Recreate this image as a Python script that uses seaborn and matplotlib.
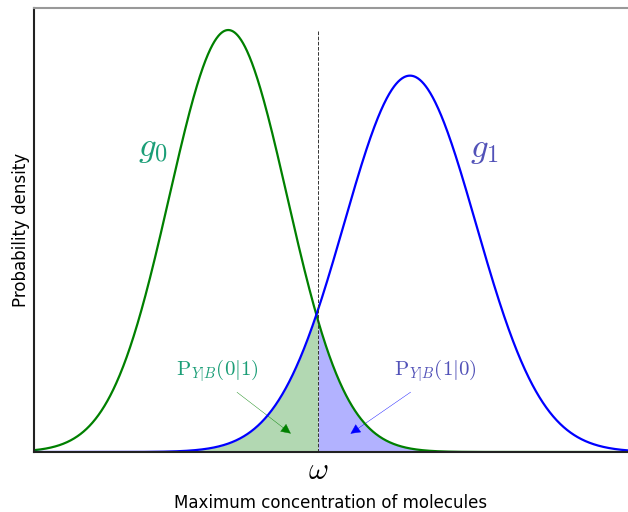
import numpy as np
import pandas as pd
import matplotlib
matplotlib.use("Agg")
import matplotlib.pyplot as plt
import seaborn as sns
from matplotlib.patches import FancyArrowPatch

sns.set_theme(style="white")
plt.rcParams["font.family"] = ["DejaVu Sans"]
plt.rcParams["mathtext.fontset"] = "cm"

# Class-conditional densities of the maximum concentration
means = [3.27, 6.33]
sigmas = [0.99, 1.11]
curve_names = ["g0", "g1"]
curve_colors = ["green", "blue"]
label_colors = ["#1b9e77", "#5252b8"]
omega = 4.78
x_limits = (0.0, 10.0)
y_top = 0.424

x = np.linspace(x_limits[0], x_limits[1], 1200)


def gauss(xs, mu, sd):
    return np.exp(-0.5 * ((xs - mu) / sd) ** 2) / (sd * np.sqrt(2 * np.pi))


frames = []
for name, mu, sd in zip(curve_names, means, sigmas):
    frames.append(pd.DataFrame({"x": x, "density": gauss(x, mu, sd), "curve": name}))
df = pd.concat(frames, ignore_index=True)

fig = plt.figure(figsize=(6.28, 5.12), dpi=100)
ax = fig.add_axes([34 / 628, 60 / 512, 1 - 34 / 628, 444 / 512])

sns.lineplot(data=df, x="x", y="density", hue="curve", palette=curve_colors,
             legend=False, ax=ax, linewidth=1.6)

g0 = gauss(x, means[0], sigmas[0])
g1 = gauss(x, means[1], sigmas[1])
ax.fill_between(x, 0, g1, where=x <= omega, color="green", alpha=0.3, linewidth=0)
ax.fill_between(x, 0, g0, where=x >= omega, color="blue", alpha=0.3, linewidth=0)

# decision threshold
ax.plot([omega, omega], [0, gauss(means[0], means[0], sigmas[0])],
        color="#333333", linestyle="--", linewidth=0.7)

ax.text(2.0, 0.2905, r"$g_0$", color=label_colors[0], fontsize=25,
        ha="center", va="center")
ax.text(7.59, 0.2896, r"$g_1$", color=label_colors[1], fontsize=25,
        ha="center", va="center")

ax.text(3.08, 0.0776, r"$\mathrm{P}_{Y|B}(0|1)$", color=label_colors[0],
        fontsize=15, ha="center", va="center")
ax.text(6.75, 0.0776, r"$\mathrm{P}_{Y|B}(1|0)$", color=label_colors[1],
        fontsize=15, ha="center", va="center")

for (x0, y0), (x1, y1), col in [((3.38, 0.0587), (4.36, 0.016), "green"),
                                ((6.38, 0.0587), (5.29, 0.016), "blue")]:
    ax.add_patch(FancyArrowPatch((x0, y0), (x1, y1), arrowstyle="-|>",
                                 mutation_scale=16, color=col, linewidth=0.3))

ax.set_xlim(*x_limits)
ax.set_ylim(0, y_top)
ax.set_xticks([omega])
ax.set_xticklabels([r"$\omega$"], fontsize=22, color="black")
ax.set_yticks([])
ax.tick_params(axis="x", length=0, pad=3)
ax.set_xlabel("Maximum concentration of molecules", fontsize=12,
              labelpad=6, color="black")
ax.set_ylabel("Probability density", fontsize=12, labelpad=3, color="black")

for side in ["left", "bottom"]:
    ax.spines[side].set_color("#222222")
    ax.spines[side].set_linewidth(1.5)
ax.spines["top"].set_color("#999999")
ax.spines["top"].set_linewidth(1.5)
ax.spines["right"].set_visible(False)

fig.savefig("out.png", dpi=100)
